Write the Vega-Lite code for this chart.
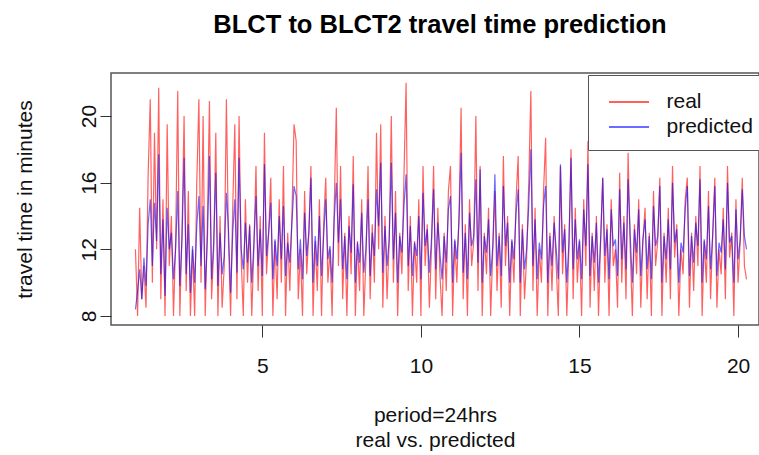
{
"$schema":"https://vega.github.io/schema/vega-lite/v6.json",
"width":648,"height":252,
"autosize":{"type":"none"},
"padding":{"left":111,"top":73,"right":0,"bottom":130},
"background":"white",
"config":{"font":"Liberation Sans","view":{"stroke":"#555","strokeWidth":1.5}},
"title":{"text":"BLCT to BLCT2 travel time prediction","fontSize":25.5,"fontWeight":"bold","color":"black","anchor":"middle","offset":35,"dx":5},
"data":{"values":[
{"t":1,"real":12,"predicted":8.4},{"t":1.067,"real":8,"predicted":9.5},{"t":1.133,"real":14.5,"predicted":10.8},{"t":1.2,"real":9,"predicted":9},{"t":1.267,"real":11,"predicted":11.5},{"t":1.333,"real":8.5,"predicted":9.8},{"t":1.4,"real":16.5,"predicted":13.5},{"t":1.467,"real":21,"predicted":15},{"t":1.533,"real":10,"predicted":11},{"t":1.6,"real":19,"predicted":14.8},{"t":1.667,"real":12,"predicted":12.5},{"t":1.733,"real":21.7,"predicted":17.7},{"t":1.8,"real":9,"predicted":10.5},{"t":1.867,"real":15,"predicted":13.8},{"t":1.933,"real":8,"predicted":9.2},
{"t":2,"real":19.5,"predicted":14.5},{"t":2.067,"real":11,"predicted":12},{"t":2.133,"real":14,"predicted":13},{"t":2.2,"real":8,"predicted":10.2},{"t":2.267,"real":12.5,"predicted":12},{"t":2.333,"real":21.5,"predicted":15.5},{"t":2.4,"real":8,"predicted":9.8},{"t":2.467,"real":13,"predicted":12.6},{"t":2.533,"real":20,"predicted":17.5},{"t":2.6,"real":9.5,"predicted":10.5},{"t":2.667,"real":15.5,"predicted":13.5},{"t":2.733,"real":8,"predicted":9.4},{"t":2.8,"real":12,"predicted":12.2},{"t":2.867,"real":8,"predicted":10},{"t":2.933,"real":16,"predicted":13.4},
{"t":3,"real":21,"predicted":15.2},{"t":3.067,"real":10,"predicted":11},{"t":3.133,"real":20,"predicted":14.6},{"t":3.2,"real":8,"predicted":9.6},{"t":3.267,"real":13.5,"predicted":12.5},{"t":3.333,"real":20.9,"predicted":17.6},{"t":3.4,"real":9,"predicted":10.2},{"t":3.467,"real":12,"predicted":12.4},{"t":3.533,"real":19,"predicted":16.6},{"t":3.6,"real":8,"predicted":9.8},{"t":3.667,"real":14,"predicted":13},{"t":3.733,"real":8.5,"predicted":10.5},{"t":3.8,"real":11,"predicted":11.6},{"t":3.867,"real":21,"predicted":15.4},{"t":3.933,"real":12.5,"predicted":13.2},
{"t":4,"real":8,"predicted":9.4},{"t":4.067,"real":14.5,"predicted":13},{"t":4.133,"real":19.5,"predicted":15},{"t":4.2,"real":9,"predicted":10.6},{"t":4.267,"real":20,"predicted":17.5},{"t":4.333,"real":11.5,"predicted":12},{"t":4.4,"real":8,"predicted":10.8},{"t":4.467,"real":15,"predicted":13.6},{"t":4.533,"real":10,"predicted":11.2},{"t":4.6,"real":13.5,"predicted":13.4},{"t":4.667,"real":8,"predicted":10},{"t":4.733,"real":12,"predicted":12.3},{"t":4.8,"real":17,"predicted":15.2},{"t":4.867,"real":9.5,"predicted":11},{"t":4.933,"real":14,"predicted":13.2},
{"t":5,"real":8,"predicted":10.4},{"t":5.067,"real":19,"predicted":17.1},{"t":5.133,"real":10.5,"predicted":11.6},{"t":5.2,"real":13,"predicted":13},{"t":5.267,"real":16.3,"predicted":14.8},{"t":5.333,"real":8,"predicted":10.2},{"t":5.4,"real":12.5,"predicted":12.6},{"t":5.467,"real":9,"predicted":11},{"t":5.533,"real":15,"predicted":14},{"t":5.6,"real":10,"predicted":11.4},{"t":5.667,"real":17,"predicted":14.6},{"t":5.733,"real":8,"predicted":10.4},{"t":5.8,"real":13,"predicted":12.4},{"t":5.867,"real":9.5,"predicted":11.2},{"t":5.933,"real":14,"predicted":13.6},
{"t":6,"real":19.5,"predicted":15.8},{"t":6.067,"real":18.5,"predicted":15.2},{"t":6.133,"real":9,"predicted":10.8},{"t":6.2,"real":12,"predicted":12.6},{"t":6.267,"real":8,"predicted":10.2},{"t":6.333,"real":15.5,"predicted":14.2},{"t":6.4,"real":10.5,"predicted":11.6},{"t":6.467,"real":13,"predicted":13},{"t":6.533,"real":17,"predicted":16.3},{"t":6.6,"real":8,"predicted":10},{"t":6.667,"real":12.5,"predicted":12.8},{"t":6.733,"real":9.5,"predicted":11},{"t":6.8,"real":15,"predicted":14},{"t":6.867,"real":8,"predicted":10.4},{"t":6.933,"real":13.5,"predicted":12.8},
{"t":7,"real":16.3,"predicted":15},{"t":7.067,"real":10,"predicted":11.4},{"t":7.133,"real":12,"predicted":12.2},{"t":7.2,"real":8,"predicted":10},{"t":7.267,"real":14.5,"predicted":13.8},{"t":7.333,"real":20.5,"predicted":16},{"t":7.4,"real":11,"predicted":12.4},{"t":7.467,"real":17,"predicted":15},{"t":7.533,"real":9,"predicted":10.8},{"t":7.6,"real":13,"predicted":12.8},{"t":7.667,"real":8,"predicted":10.2},{"t":7.733,"real":14,"predicted":13.4},{"t":7.8,"real":10.5,"predicted":11.8},{"t":7.867,"real":17.6,"predicted":15.9},{"t":7.933,"real":8,"predicted":10},
{"t":8,"real":12.5,"predicted":12.4},{"t":8.067,"real":9.5,"predicted":11.2},{"t":8.133,"real":15,"predicted":14.2},{"t":8.2,"real":8,"predicted":10.6},{"t":8.267,"real":11.5,"predicted":12},{"t":8.333,"real":17,"predicted":15},{"t":8.4,"real":9,"predicted":10.4},{"t":8.467,"real":13.5,"predicted":13},{"t":8.533,"real":10,"predicted":11.6},{"t":8.6,"real":19,"predicted":15.6},{"t":8.667,"real":12,"predicted":13.4},{"t":8.733,"real":19.5,"predicted":17.2},{"t":8.8,"real":8.5,"predicted":10.6},{"t":8.867,"real":14,"predicted":13.4},{"t":8.933,"real":9,"predicted":11},
{"t":9,"real":12.5,"predicted":12.6},{"t":9.067,"real":20,"predicted":17.2},{"t":9.133,"real":10,"predicted":11.4},{"t":9.2,"real":15.5,"predicted":14.2},{"t":9.267,"real":8,"predicted":10},{"t":9.333,"real":13,"predicted":12.8},{"t":9.4,"real":10.5,"predicted":11.8},{"t":9.467,"real":16.5,"predicted":14.6},{"t":9.533,"real":22,"predicted":16.5},{"t":9.6,"real":9.5,"predicted":11},{"t":9.667,"real":14,"predicted":13.4},{"t":9.733,"real":8,"predicted":10.4},{"t":9.8,"real":12.5,"predicted":12.4},{"t":9.867,"real":10,"predicted":11.6},{"t":9.933,"real":15,"predicted":14},
{"t":10,"real":8,"predicted":10.2},{"t":10.067,"real":17,"predicted":15.4},{"t":10.133,"real":11,"predicted":12.2},{"t":10.2,"real":13.5,"predicted":13.2},{"t":10.267,"real":8.5,"predicted":10.6},{"t":10.333,"real":12,"predicted":12.6},{"t":10.4,"real":17,"predicted":15.6},{"t":10.467,"real":9,"predicted":10.8},{"t":10.533,"real":14.5,"predicted":13.6},{"t":10.6,"real":10.5,"predicted":11.8},{"t":10.667,"real":8,"predicted":10.2},{"t":10.733,"real":13,"predicted":12.8},{"t":10.8,"real":9.5,"predicted":11.2},{"t":10.867,"real":15.5,"predicted":14.4},{"t":10.933,"real":17,"predicted":15.2},
{"t":11,"real":8,"predicted":10},{"t":11.067,"real":12.5,"predicted":12.6},{"t":11.133,"real":10,"predicted":11.4},{"t":11.2,"real":14,"predicted":13.6},{"t":11.267,"real":20.5,"predicted":17.8},{"t":11.333,"real":9,"predicted":10.6},{"t":11.4,"real":13.5,"predicted":13},{"t":11.467,"real":8,"predicted":10.2},{"t":11.533,"real":15,"predicted":14.2},{"t":11.6,"real":11,"predicted":12.2},{"t":11.667,"real":12.5,"predicted":12.8},{"t":11.733,"real":20,"predicted":16.2},{"t":11.8,"real":9.5,"predicted":11.2},{"t":11.867,"real":17,"predicted":16.8},{"t":11.933,"real":8,"predicted":10},
{"t":12,"real":13,"predicted":12.8},{"t":12.067,"real":10.5,"predicted":11.8},{"t":12.133,"real":14.5,"predicted":13.8},{"t":12.2,"real":8,"predicted":10.4},{"t":12.267,"real":12,"predicted":12.2},{"t":12.333,"real":15.5,"predicted":16.5},{"t":12.4,"real":9.5,"predicted":11},{"t":12.467,"real":13,"predicted":12.8},{"t":12.533,"real":8.5,"predicted":10.4},{"t":12.6,"real":17.6,"predicted":15.8},{"t":12.667,"real":11,"predicted":12.2},{"t":12.733,"real":14,"predicted":13.6},{"t":12.8,"real":8,"predicted":10},{"t":12.867,"real":12.5,"predicted":12.6},{"t":12.933,"real":10,"predicted":11.4},
{"t":13,"real":15,"predicted":14.2},{"t":13.067,"real":17.6,"predicted":15.6},{"t":13.133,"real":8,"predicted":10},{"t":13.2,"real":13.5,"predicted":13.2},{"t":13.267,"real":9,"predicted":10.8},{"t":13.333,"real":11.5,"predicted":12},{"t":13.4,"real":16,"predicted":14.6},{"t":13.467,"real":21.5,"predicted":18},{"t":13.533,"real":9.5,"predicted":11},{"t":13.6,"real":14.5,"predicted":13.8},{"t":13.667,"real":8,"predicted":10.2},{"t":13.733,"real":12,"predicted":12.4},{"t":13.8,"real":10,"predicted":11.4},{"t":13.867,"real":15.5,"predicted":14.6},{"t":13.933,"real":18.7,"predicted":15.8},
{"t":14,"real":8,"predicted":10},{"t":14.067,"real":13,"predicted":12.8},{"t":14.133,"real":9.5,"predicted":11},{"t":14.2,"real":14,"predicted":13.6},{"t":14.267,"real":11,"predicted":12},{"t":14.333,"real":8,"predicted":10.2},{"t":14.4,"real":17,"predicted":17.1},{"t":14.467,"real":10.5,"predicted":11.8},{"t":14.533,"real":13.5,"predicted":13.2},{"t":14.6,"real":8,"predicted":10},{"t":14.667,"real":12,"predicted":12.4},{"t":14.733,"real":18,"predicted":17.5},{"t":14.8,"real":9,"predicted":10.8},{"t":14.867,"real":14.5,"predicted":13.8},{"t":14.933,"real":10,"predicted":11.4},
{"t":15,"real":12.5,"predicted":12.6},{"t":15.067,"real":8,"predicted":10.2},{"t":15.133,"real":15,"predicted":14.4},{"t":15.2,"real":11,"predicted":12.2},{"t":15.267,"real":18.5,"predicted":17.1},{"t":15.333,"real":8.5,"predicted":10.4},{"t":15.4,"real":13,"predicted":12.8},{"t":15.467,"real":9.5,"predicted":11.2},{"t":15.533,"real":14,"predicted":13.6},{"t":15.6,"real":8,"predicted":10},{"t":15.667,"real":12.5,"predicted":12.6},{"t":15.733,"real":16.3,"predicted":16.3},{"t":15.8,"real":10,"predicted":11.6},{"t":15.867,"real":13.5,"predicted":13.2},{"t":15.933,"real":8,"predicted":10.2},
{"t":16,"real":15,"predicted":14.4},{"t":16.067,"real":11,"predicted":12.2},{"t":16.133,"real":12,"predicted":12.6},{"t":16.2,"real":8.5,"predicted":10.4},{"t":16.267,"real":16.6,"predicted":15.6},{"t":16.333,"real":10,"predicted":11.4},{"t":16.4,"real":14,"predicted":13.6},{"t":16.467,"real":9,"predicted":10.8},{"t":16.533,"real":17.8,"predicted":16.2},{"t":16.6,"real":12,"predicted":12.8},{"t":16.667,"real":8,"predicted":10},{"t":16.733,"real":13.5,"predicted":13.2},{"t":16.8,"real":10.5,"predicted":11.8},{"t":16.867,"real":15,"predicted":14.4},{"t":16.933,"real":8.5,"predicted":10.4},
{"t":17,"real":12.5,"predicted":12.6},{"t":17.067,"real":14.5,"predicted":13.8},{"t":17.133,"real":9,"predicted":10.8},{"t":17.2,"real":13,"predicted":12.8},{"t":17.267,"real":8,"predicted":10.2},{"t":17.333,"real":15.5,"predicted":14.6},{"t":17.4,"real":11,"predicted":12.2},{"t":17.467,"real":12.5,"predicted":12.8},{"t":17.533,"real":16.3,"predicted":15.8},{"t":17.6,"real":8,"predicted":10},{"t":17.667,"real":13,"predicted":12.8},{"t":17.733,"real":10,"predicted":11.4},{"t":17.8,"real":14.5,"predicted":13.8},{"t":17.867,"real":9,"predicted":10.8},{"t":17.933,"real":17,"predicted":16},
{"t":18,"real":11.5,"predicted":12.4},{"t":18.067,"real":13.5,"predicted":13.2},{"t":18.133,"real":8,"predicted":10},{"t":18.2,"real":12,"predicted":12.4},{"t":18.267,"real":10.5,"predicted":11.8},{"t":18.333,"real":15,"predicted":14.4},{"t":18.4,"real":16.3,"predicted":15.8},{"t":18.467,"real":8.5,"predicted":10.4},{"t":18.533,"real":13,"predicted":12.8},{"t":18.6,"real":9.5,"predicted":11.2},{"t":18.667,"real":14,"predicted":13.6},{"t":18.733,"real":11,"predicted":12.2},{"t":18.8,"real":17,"predicted":16.2},{"t":18.867,"real":8,"predicted":10},{"t":18.933,"real":12.5,"predicted":12.6},
{"t":19,"real":10,"predicted":11.4},{"t":19.067,"real":15.5,"predicted":14.6},{"t":19.133,"real":9,"predicted":10.8},{"t":19.2,"real":13,"predicted":12.8},{"t":19.267,"real":16.3,"predicted":15.8},{"t":19.333,"real":8.5,"predicted":10.4},{"t":19.4,"real":12,"predicted":12.4},{"t":19.467,"real":10.5,"predicted":11.8},{"t":19.533,"real":14.5,"predicted":13.8},{"t":19.6,"real":9,"predicted":10.8},{"t":19.667,"real":17,"predicted":16},{"t":19.733,"real":11.5,"predicted":12.4},{"t":19.8,"real":13,"predicted":12.8},{"t":19.867,"real":8,"predicted":10},{"t":19.933,"real":15,"predicted":14.4},
{"t":20,"real":10,"predicted":11.4},{"t":20.067,"real":12.5,"predicted":12.6},{"t":20.133,"real":16.3,"predicted":15.6},{"t":20.2,"real":11,"predicted":12.8},{"t":20.267,"real":10.2,"predicted":12}
]},
"encoding":{
 "x":{"field":"t","type":"quantitative","scale":{"domain":[0.229,20.66],"nice":false,"zero":false},
  "axis":{"values":[5,10,15,20],"grid":false,"domain":false,"tickColor":"#333","tickSize":12,"labelFontSize":21,"labelColor":"#111","labelPadding":18,"title":["period=24hrs","real vs. predicted"],"titleFontSize":21,"titleFontWeight":"normal","titleColor":"#111","titleLineHeight":25,"titlePadding":28}}
},
"layer":[
 {"mark":{"type":"line","strokeWidth":1.2,"clip":true},
  "encoding":{
   "y":{"field":"real","type":"quantitative","scale":{"domain":[7.46,22.58],"nice":false,"zero":false},
    "axis":{"values":[8,12,16,20],"grid":false,"domain":false,"tickColor":"#333","tickSize":11,"labelFontSize":21,"labelColor":"#111","labelAngle":270,"labelAlign":"center","labelBaseline":"alphabetic","labelPadding":5,"title":"travel time in minutes","titleFontSize":21,"titleFontWeight":"normal","titleColor":"#111","titlePadding":43}},
   "color":{"datum":"real","type":"nominal","scale":{"domain":["real","predicted"],"range":["rgba(255,0,0,0.62)","rgba(0,0,255,0.58)"]},
    "legend":{"orient":"none","legendX":477,"legendY":2,"title":null,"symbolType":"M-0.444,0L2.52,0","symbolSize":729,"symbolStrokeWidth":2,"labelFontSize":21,"labelColor":"#111","labelOffset":37,"padding":12.5,"rowPadding":0,"strokeColor":"#555","fillColor":"white"}}
  }},
 {"mark":{"type":"line","strokeWidth":1.2,"clip":true},
  "encoding":{
   "y":{"field":"predicted","type":"quantitative"},
   "color":{"datum":"predicted","type":"nominal"}
  }}
]
}
